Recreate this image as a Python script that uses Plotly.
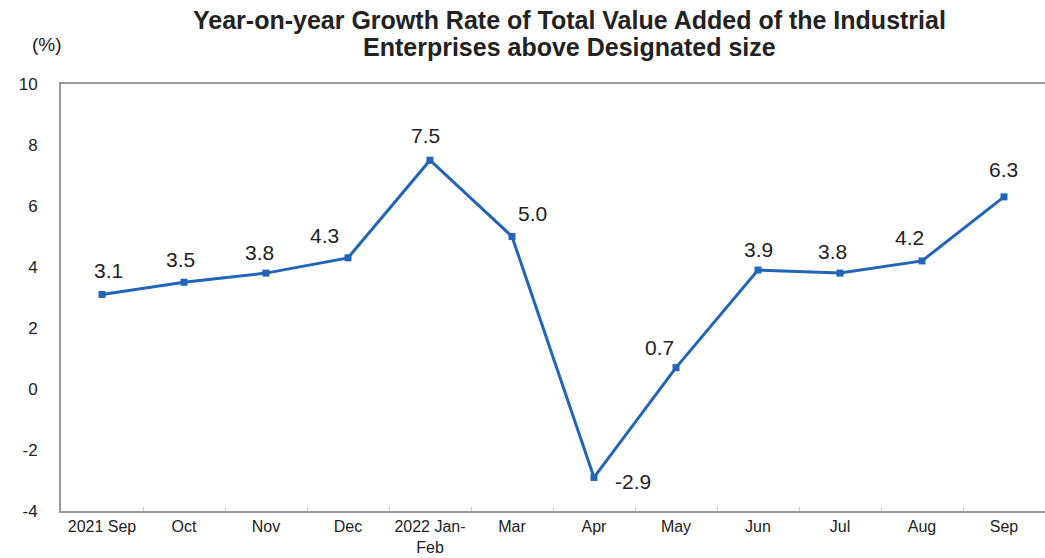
import plotly.graph_objects as go

categories = ["2021 Sep", "Oct", "Nov", "Dec", "2022 Jan-<br>Feb", "Mar", "Apr", "May", "Jun", "Jul", "Aug", "Sep"]
values = [3.1, 3.5, 3.8, 4.3, 7.5, 5.0, -2.9, 0.7, 3.9, 3.8, 4.2, 6.3]
labels = ["3.1", "3.5", "3.8", "4.3", "7.5", "5.0", "-2.9", "0.7", "3.9", "3.8", "4.2", "6.3"]
y_ticks = [-4, -2, 0, 2, 4, 6, 8, 10]
y_ticktext = ["-4", "-2", "0", "2", "4", "6", "8", "10"]
title_lines = ["Year-on-year Growth Rate of Total Value Added of the Industrial",
               "Enterprises above Designated size"]

# label placement offsets in pixels (label centre relative to the point): styling only
label_dx = [6, -4, -7, -24, -5, 20, 39, -17, 0, -8, -13, -1]
label_dy = [24, 23, 21, 22, 25, 23, -4, 20, 21, 22, 23, 27]

FONT = "Liberation Sans, Arial, sans-serif"
LINE = "#2264b8"
PLOT_TOP, PLOT_BOTTOM, PLOT_LEFT, PLOT_W = 84, 511, 61, 984

def py(px):
    return (PLOT_BOTTOM - px) / (PLOT_BOTTOM - PLOT_TOP)

def pxr(px):
    return (px - PLOT_LEFT) / PLOT_W

fig = go.Figure()
fig.add_trace(go.Scatter(
    x=categories, y=values, mode="lines+markers",
    line=dict(color=LINE, width=3),
    marker=dict(symbol="square", size=7, color=LINE),
    showlegend=False, hoverinfo="skip",
))

for c, v, t, dx, dy in zip(categories, values, labels, label_dx, label_dy):
    fig.add_annotation(x=c, y=v, text=t, showarrow=False, xanchor="center", yanchor="middle",
                       xshift=dx, yshift=dy, font=dict(size=21, color="#222", family=FONT))

fig.add_annotation(xref="paper", yref="paper", x=pxr(47), y=py(45), text="(%)", showarrow=False,
                   xanchor="center", yanchor="middle", font=dict(size=19, color="#222", family=FONT))

for line_text, ypx in zip(title_lines, [20, 47]):
    fig.add_annotation(xref="paper", yref="paper", x=pxr(569), y=py(ypx), text="<b>" + line_text + "</b>",
                       showarrow=False, xanchor="center", yanchor="middle",
                       font=dict(size=25, color="#222", family=FONT))

fig.update_layout(
    width=1045, height=558,
    margin=dict(l=PLOT_LEFT, r=0, t=PLOT_TOP, b=558 - PLOT_BOTTOM),
    paper_bgcolor="white", plot_bgcolor="white",
    font=dict(family=FONT, color="#222"),
    xaxis=dict(type="category", showgrid=False, showline=True, linecolor="#999999", linewidth=2,
               mirror=True, ticks="inside", tickson="boundaries", ticklen=4, tickcolor="#cccccc",
               tickfont=dict(size=16, color="#222", family=FONT), range=[-0.5, 11.5]),
    yaxis=dict(range=[-4, 10], tickvals=y_ticks, ticktext=y_ticktext, showgrid=False, zeroline=False,
               showline=True, linecolor="#999999", linewidth=2, mirror=False, ticks="",
               ticklabelstandoff=18, tickfont=dict(size=17, color="#222", family=FONT)),
)

fig.write_html("out.html")
